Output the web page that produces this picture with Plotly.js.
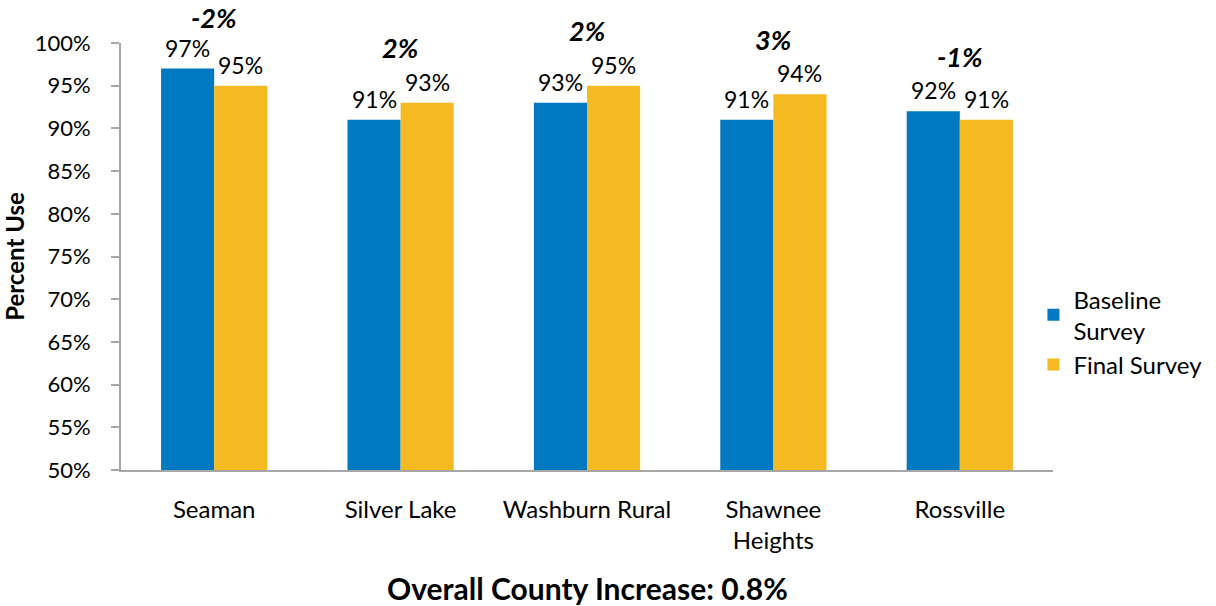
<!DOCTYPE html>
<html>
<head>
<meta charset="utf-8">
<script src="https://cdn.plot.ly/plotly-3.0.1.min.js"></script>
<style>html,body{margin:0;padding:0;background:#fff;}#chart{width:1216px;height:606px;}</style>
</head>
<body>
<div id="chart"></div>
<script>
const categories = ["Seaman", "Silver Lake", "Washburn Rural", "Shawnee<br>Heights", "Rossville"];
const baseline = [97, 91, 93, 91, 92];
const finalSurvey = [95, 93, 95, 94, 91];
const changeLabels = ["-2%", "2%", "2%", "3%", "-1%"];
const seriesNames = ["Baseline<br>Survey", "Final Survey"];
const yTicks = [50, 55, 60, 65, 70, 75, 80, 85, 90, 95, 100];
const overallText = "Overall County Increase: 0.8%";

const FONT = "Lato, 'Open Sans', sans-serif";
const BLUE = "#0079C2";
const GOLD = "#F5B921";
const AXIS = "#A6A6A6";
const Y_MIN = 50, Y_MAX = 100;
const W = 1216, H = 606;
const M = {l: 121, r: 163, t: 43, b: 136};
const PX_PER_UNIT = (H - M.t - M.b) / (Y_MAX - Y_MIN);
const CHANGE_LIFT = 55;      // px above the taller bar
const TOP_ROOM = 26;         // max px a label may rise above plot top

const traces = [
  {type: "bar", name: seriesNames[0], x: categories, y: baseline, marker: {color: BLUE}, hoverinfo: "skip"},
  {type: "bar", name: seriesNames[1], x: categories, y: finalSurvey, marker: {color: GOLD}, hoverinfo: "skip"}
];

const annotations = [];
categories.forEach((c, i) => {
  annotations.push({x: c, y: baseline[i], xref: "x", yref: "y", text: baseline[i] + "%", showarrow: false,
    xshift: -26.5, yshift: 21, yanchor: "middle", font: {family: FONT, size: 23, color: "#000"}});
  annotations.push({x: c, y: finalSurvey[i], xref: "x", yref: "y", text: finalSurvey[i] + "%", showarrow: false,
    xshift: 26.5, yshift: 21, yanchor: "middle", font: {family: FONT, size: 23, color: "#000"}});
  const top = Math.max(baseline[i], finalSurvey[i]);
  const room = (Y_MAX - top) * PX_PER_UNIT + TOP_ROOM;
  annotations.push({x: c, y: top, xref: "x", yref: "y",
    text: "<b><i>" + changeLabels[i] + "</i></b>", showarrow: false,
    yshift: Math.min(CHANGE_LIFT, room), yanchor: "middle", font: {family: FONT, size: 27, color: "#000"}});
});
annotations.push({x: 0.5, y: 0, xref: "paper", yref: "paper", yshift: -118, yanchor: "middle",
  text: "<b>" + overallText + "</b>", showarrow: false, font: {family: FONT, size: 30, color: "#000"}});

const layout = {
  width: W, height: H,
  margin: {l: M.l, r: M.r, t: M.t, b: M.b, pad: 0, autoexpand: false},
  paper_bgcolor: "#fff", plot_bgcolor: "#fff",
  barmode: "group", bargap: 0.43, bargroupgap: 0,
  font: {family: FONT, size: 22, color: "#000"},
  showlegend: true,
  legend: {x: 0.979, xanchor: "left", y: 0.323, yanchor: "middle", bgcolor: "rgba(0,0,0,0)",
    font: {family: FONT, size: 24, color: "#000"}, tracegroupgap: 0},
  xaxis: {
    type: "category", range: [-0.5, 4.5], showgrid: false, zeroline: false,
    showline: true, linecolor: AXIS, linewidth: 2, ticks: "",
    tickfont: {family: FONT, size: 24, color: "#000"}, ticklabelstandoff: 17, fixedrange: true
  },
  yaxis: {
    range: [Y_MIN, Y_MAX], tickvals: yTicks, ticktext: yTicks.map(v => v + "%"),
    showgrid: false, zeroline: false, showline: true, linecolor: AXIS, linewidth: 2,
    ticks: "outside", ticklen: 8, tickwidth: 2, tickcolor: AXIS,
    tickfont: {family: FONT, size: 22, color: "#000"}, ticklabelstandoff: 16,
    title: {text: "<b>Percent Use</b>", font: {family: FONT, size: 24, color: "#000"}, standoff: 9},
    fixedrange: true
  },
  annotations: annotations
};

Plotly.newPlot("chart", traces, layout, {displayModeBar: false, staticPlot: true});
</script>
</body>
</html>
